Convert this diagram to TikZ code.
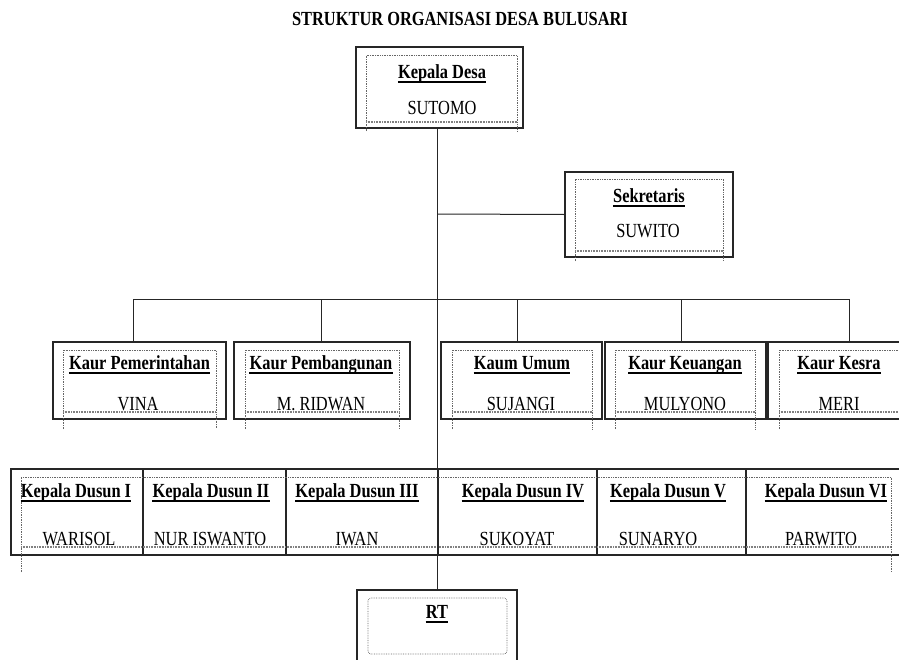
\documentclass[tikz,border=0pt]{standalone}
\usepackage{fontspec}
\setmainfont{Liberation Serif}[FakeStretch=0.82]
\begin{document}
\begin{tikzpicture}[x=1pt,y=-1pt,
  ln/.style={draw=black!85, line width=1pt},
  obox/.style={draw=black!85, line width=1.1pt, rectangle, inner sep=0pt, outer sep=0pt, anchor=north west},
  ibox/.style={draw=black!60, densely dotted, line width=0.7pt},
  ibot/.style={draw=black!50, line width=1.5pt, dash pattern=on 1pt off 0.6pt},
  hdtext/.style={inner sep=0pt, anchor=base, font=\fontsize{20}{22}\selectfont\bfseries},
  nmtext/.style={inner sep=0pt, anchor=base, font=\fontsize{20}{22}\selectfont},
  ttl/.style={inner sep=0pt, anchor=base, font=\fontsize{20}{22}\selectfont\bfseries}]
\newcommand\hd[4]{\node[hdtext] (#1) at (#2,#3) {#4};
  \draw[line width=1.8pt] ([yshift=-3.8pt]#1.base west) -- ([yshift=-3.8pt]#1.base east);}
\newcommand\inbox[5]{%
  \draw[ibox] (#1,#5) -- (#1,#2) -- (#3,#2) -- (#3,#5);
  \draw[ibot] (#1,#4) -- (#3,#4);}
\clip (0,0) rectangle (899,659);
\fill[white] (0,0) rectangle (899,659);

% title
\node[ttl] (title) at (460,25) {STRUKTUR ORGANISASI DESA BULUSARI};

% outer boxes
\node[obox, minimum width=167pt, minimum height=81pt] (kd) at (356,47) {};
\node[obox, minimum width=168pt, minimum height=85pt] (sek) at (565,172) {};
\node[obox, minimum width=173pt, minimum height=77pt] (k1) at (53,342) {};
\node[obox, minimum width=176pt, minimum height=77pt] (k2) at (234,342) {};
\node[obox, minimum width=161pt, minimum height=77pt] (k3) at (441,342) {};
\node[obox, minimum width=161pt, minimum height=77pt] (k4) at (605,342) {};
\node[obox, minimum width=150pt, minimum height=77pt] (k5) at (768,342) {};
\node[obox, minimum width=132pt, minimum height=86pt] (d1) at (11,469) {};
\node[obox, minimum width=143pt, minimum height=86pt] (d2) at (143,469) {};
\node[obox, minimum width=152pt, minimum height=86pt] (d3) at (286,469) {};
\node[obox, minimum width=159pt, minimum height=86pt] (d4) at (438,469) {};
\node[obox, minimum width=149pt, minimum height=86pt] (d5) at (597,469) {};
\node[obox, minimum width=170pt, minimum height=86pt] (d6) at (746,469) {};
\node[obox, minimum width=160pt, minimum height=80pt] (rt) at (357,590) {};

% inner dotted frames
\inbox{366}{55}{517}{122}{131}
\inbox{575}{179}{723}{251}{261}
\inbox{63}{350}{216}{412}{429}
\inbox{245}{350}{399}{412}{429}
\inbox{452}{350}{592}{412}{429}
\inbox{615}{350}{755}{412}{429}
\inbox{779}{350}{905}{412}{429}
\inbox{21}{477}{891}{547}{572}
\draw[ibox, rounded corners=3pt] (368,598) rectangle (507,654);

% connectors
\coordinate (j1) at (438,214);
\coordinate (bl) at (133,299);
\coordinate (b2) at (321,299);
\coordinate (b3) at (517,299);
\coordinate (b4) at (681,299);
\coordinate (br) at (849,299);
\draw[ln] (kd.south -| rt.north) -- (rt.north);
\draw[ln] (j1) -- (sek.west);
\draw[ln] (bl) -- (br);
\draw[ln] (bl) -- (bl |- k1.north);
\draw[ln] (b2) -- (b2 |- k2.north);
\draw[ln] (b3) -- (b3 |- k3.north);
\draw[ln] (b4) -- (b4 |- k4.north);
\draw[ln] (br) -- (br |- k5.north);

% texts
\hd{hkd}{442}{78}{Kepala Desa}
\node[nmtext] (nkd) at (442,114) {SUTOMO};
\hd{hsek}{649}{202}{Sekretaris}
\node[nmtext] (nsek) at (648,237) {SUWITO};

\hd{hk1}{139.5}{369}{Kaur Pemerintahan}
\node[nmtext] (nk1) at (138,410) {VINA};
\hd{hk2}{321}{369}{Kaur Pembangunan}
\node[nmtext] (nk2) at (321,410) {M. RIDWAN};
\hd{hk3}{522}{369}{Kaum Umum}
\node[nmtext] (nk3) at (521,410) {SUJANGI};
\hd{hk4}{685}{369}{Kaur Keuangan}
\node[nmtext] (nk4) at (685,410) {MULYONO};
\hd{hk5}{839}{369}{Kaur Kesra}
\node[nmtext] (nk5) at (839,410) {MERI};

\hd{hd1}{76}{497}{Kepala Dusun I}
\node[nmtext] (nd1) at (79,545) {WARISOL};
\hd{hd2}{211}{497}{Kepala Dusun II}
\node[nmtext] (nd2) at (210,545) {NUR ISWANTO};
\hd{hd3}{357}{497}{Kepala Dusun III}
\node[nmtext] (nd3) at (357,545) {IWAN};
\hd{hd4}{523}{497}{Kepala Dusun IV}
\node[nmtext] (nd4) at (517,545) {SUKOYAT};
\hd{hd5}{668}{497}{Kepala Dusun V}
\node[nmtext] (nd5) at (658,545) {SUNARYO};
\hd{hd6}{826}{497}{Kepala Dusun VI}
\node[nmtext] (nd6) at (821,545) {PARWITO};

\hd{hrt}{437}{618}{RT}
\end{tikzpicture}
\end{document}
